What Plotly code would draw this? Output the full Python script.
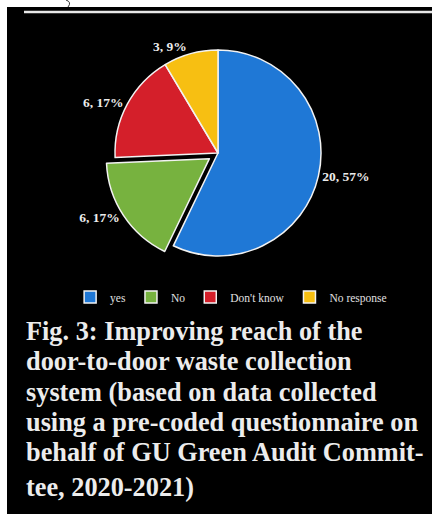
import plotly.graph_objects as go

# Survey responses
categories = ["yes", "No", "Don't know", "No response"]
counts = [20, 6, 6, 3]
colors = ["#1f78d6", "#77b23f", "#d41f2a", "#f7bf12"]
pulls = [0, 0.1, 0, 0]

caption_lines = [
    "Fig. 3: Improving reach of the",
    "door-to-door waste collection",
    "system (based on data collected",
    "using a pre-coded questionnaire on",
    "behalf of GU Green Audit Commit-",
    "tee, 2020-2021)",
]
# vertical centre of each caption line, in pixels from the top
caption_y = [331, 361, 392, 422, 452, 487]

W, H = 432, 514
cx, cy, r = 218, 153, 103
half = r * (1 + max(pulls))

fig = go.Figure(
    go.Pie(
        labels=categories,
        values=counts,
        sort=False,
        direction="clockwise",
        rotation=0,
        pull=pulls,
        marker=dict(colors=colors, line=dict(color="#f2f2f2", width=1.5)),
        textposition="outside",
        texttemplate="<b>%{value}, %{percent:.0%}</b>",
        textfont=dict(family="Liberation Serif", size=13.5, color="#ececec"),
        domain=dict(
            x=[(cx - half) / W, (cx + half) / W],
            y=[1 - (cy + half) / H, 1 - (cy - half) / H],
        ),
        showlegend=True,
    )
)

annotations = [
    dict(
        xref="paper", yref="paper",
        x=24 / W, y=1 - yy / H,
        xanchor="left", yanchor="middle",
        showarrow=False,
        text=f"<b>{line}</b>",
        font=dict(family="Liberation Serif", size=26.3, color="#ececec"),
    )
    for line, yy in zip(caption_lines, caption_y)
]

fig.update_layout(
    width=W,
    height=H,
    margin=dict(l=0, r=0, t=0, b=0),
    paper_bgcolor="white",
    plot_bgcolor="black",
    legend=dict(
        orientation="h",
        x=0.535,
        xanchor="center",
        y=1 - 297 / H,
        yanchor="middle",
        font=dict(family="Liberation Serif", size=11.5, color="#e0e0e0"),
        itemwidth=30,
        bgcolor="rgba(0,0,0,0)",
    ),
    shapes=[
        dict(type="rect", xref="paper", yref="paper",
             x0=7 / W, x1=1, y0=0, y1=1 - 7 / H,
             fillcolor="black", line=dict(width=0), layer="below"),
        dict(type="line", xref="paper", yref="paper",
             x0=24 / W, x1=1, y0=1 - 12 / H, y1=1 - 12 / H,
             line=dict(color="#e8e8e8", width=2.5)),
        dict(type="path", xref="paper", yref="paper",
             path=f"M {66/W} {1} Q {72/W} {1-2/H} {68/W} {1-7/H}",
             line=dict(color="#333", width=1)),
    ],
    annotations=annotations,
)

fig.write_html("out.html")
